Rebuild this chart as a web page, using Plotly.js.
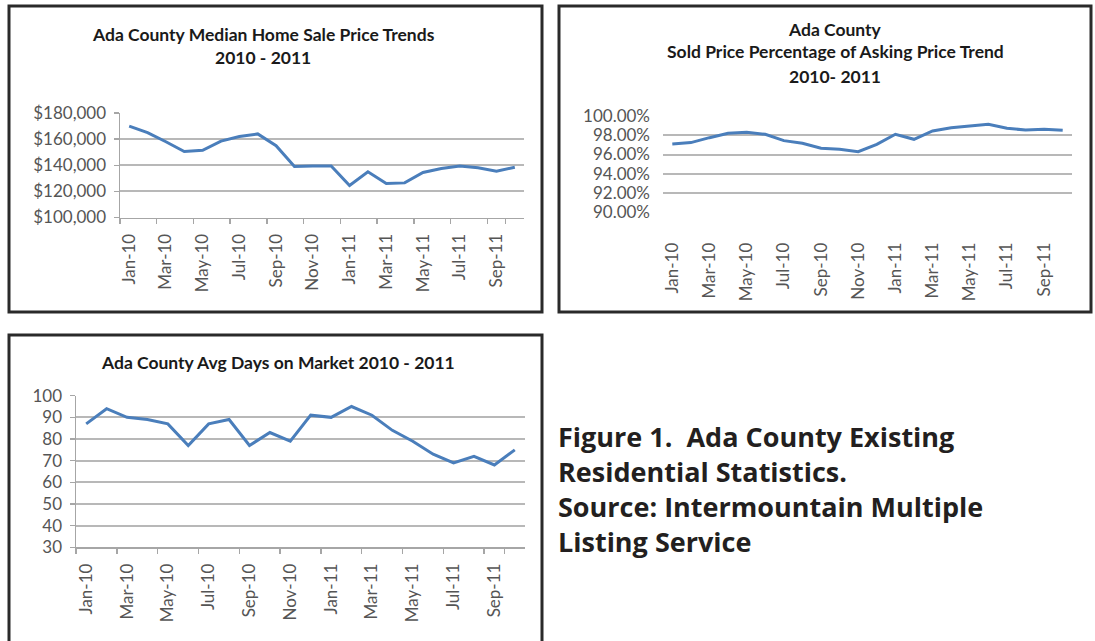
<!DOCTYPE html>
<html>
<head>
<meta charset="utf-8">
<script src="https://cdn.plot.ly/plotly-3.0.1.min.js"></script>
<style>html,body{margin:0;padding:0;background:#fff;}#chart{width:1095px;height:641px;}</style>
</head>
<body>
<div id="chart"></div>
<script>
// ---- Data ----
var months = ['Jan-10','Feb-10','Mar-10','Apr-10','May-10','Jun-10','Jul-10','Aug-10','Sep-10','Oct-10','Nov-10','Dec-10',
              'Jan-11','Feb-11','Mar-11','Apr-11','May-11','Jun-11','Jul-11','Aug-11','Sep-11','Oct-11'];
var tickLabels = ['Jan-10','Mar-10','May-10','Jul-10','Sep-10','Nov-10','Jan-11','Mar-11','May-11','Jul-11','Sep-11'];
var medianPrice = [170000,165000,158000,150500,151500,158500,162000,164000,155000,139000,139500,
                   139500,124500,135000,126000,126500,134500,137500,139500,138000,135500,138500];
var soldPct = [97.10,97.24,97.75,98.20,98.31,98.10,97.44,97.17,96.65,96.55,96.30,
               97.06,98.10,97.58,98.45,98.79,98.96,99.14,98.72,98.55,98.62,98.51];
var daysOnMarket = [87,94,90,89,87,77,87,89,77,83,79,91,90,95,91,84,79,73,69,72,68,75];

var title1 = ['Ada County Median Home Sale Price Trends','2010 - 2011'];
var title2 = ['Ada County','Sold Price Percentage of Asking Price Trend','2010- 2011'];
var title3 = ['Ada County Avg Days on Market 2010 - 2011'];
var caption = ['Figure 1.\u00a0\u00a0Ada County Existing','Residential Statistics.','Source: Intermountain Multiple','Listing Service'];

// ---- helpers (pixel -> paper) ----
var W = 1095, H = 641;
function px(x){ return x / W; }
function py(y){ return 1 - y / H; }

var lineStyle = {color:'#4a7ebb', width:3};
var tickFont = {family:'Lato, sans-serif', size:17, color:'#555555'};
var gridC = '#b8b8b8';
var axisC = '#a6a6a6';

var traces = [
  {x:months, y:medianPrice, type:'scatter', mode:'lines', line:lineStyle, xaxis:'x', yaxis:'y'},
  {x:months, y:soldPct, type:'scatter', mode:'lines', line:lineStyle, xaxis:'x2', yaxis:'y2'},
  {x:months, y:daysOnMarket, type:'scatter', mode:'lines', line:lineStyle, xaxis:'x3', yaxis:'y3'}
];

function xAxis(domain, anchor, showTicks, standoff){
  return {
    domain: domain, anchor: anchor, type:'category', range:[-0.5, months.length - 0.5],
    tickmode:'array', tickvals: tickLabels, ticktext: tickLabels,
    tickangle:-90, tickfont: tickFont, showgrid:false, zeroline:false,
    showline: showTicks, linecolor: axisC, linewidth:1.5,
    ticks: showTicks ? 'outside' : '', tickson:'boundaries', ticklen:5, tickcolor: axisC, tickwidth:1.5,
    ticklabelstandoff: standoff
  };
}

function yAxis(domain, anchor, range, dtick, fmt, suffix, showLine, standoff){
  return {
    domain: domain, anchor: anchor, range: range, dtick: dtick, tick0: range[0],
    tickformat: fmt, ticksuffix: suffix || '', tickfont: tickFont,
    showgrid:true, gridcolor: gridC, gridwidth:2, zeroline:false,
    showline: showLine, linecolor: axisC, linewidth:1.5,
    ticks: showLine ? 'outside' : '', ticklen:5, tickcolor: axisC, tickwidth:1.5,
    ticklabelstandoff: standoff
  };
}

var layout = {
  width: W, height: H, margin:{l:0,r:0,t:0,b:0}, showlegend:false,
  paper_bgcolor:'#ffffff', plot_bgcolor:'rgba(0,0,0,0)',
  xaxis:  xAxis([px(120), px(524)], 'y', true, 8),
  yaxis:  yAxis([py(217.5), py(113)], 'x', [100000,180000], 20000, '$,.0f', '', true, 4),
  xaxis2: xAxis([px(663), px(1072)], 'y2', false, 26),
  yaxis2: yAxis([py(212.3), py(116)], 'x2', [90,100], 2, '.2f', '%', false, 12),
  xaxis3: xAxis([px(76), px(525)], 'y3', true, 8),
  yaxis3: yAxis([py(547.3), py(395.7)], 'x3', [30,100], 10, 'd', '', true, 4),
  shapes: [
    {type:'rect', xref:'paper', yref:'paper', x0:px(9), x1:px(542), y0:py(312), y1:py(6), line:{color:'#2a2a2a', width:3}},
    {type:'rect', xref:'paper', yref:'paper', x0:px(559), x1:px(1091), y0:py(312), y1:py(6), line:{color:'#2a2a2a', width:3}},
    {type:'rect', xref:'paper', yref:'paper', x0:px(9), x1:px(542), y0:py(660), y1:py(335), line:{color:'#2a2a2a', width:3}}
  ],
  annotations: []
};

var titleFont = {family:'Lato, sans-serif', size:17.5, color:'#1a1a1a'};
function addTitle(lines, cx, ys){
  lines.forEach(function(t, i){
    layout.annotations.push({text:'<b>'+t+'</b>', xref:'paper', yref:'paper', x:px(cx), y:py(ys[i]),
      xanchor:'center', yanchor:'middle', showarrow:false, font:titleFont});
  });
}
addTitle(title1, 263, [34, 58]);
addTitle(title2, 835, [30, 52, 76]);
addTitle(title3, 278, [362]);

layout.annotations.push({
  text: caption.map(function(t){ return '<b>'+t+'</b>'; }).join('<br>'),
  xref:'paper', yref:'paper', x:px(556), y:py(489),
  xanchor:'left', yanchor:'middle', align:'left', showarrow:false,
  font:{family:'"Open Sans", sans-serif', size:27, color:'#231f20'}
});

Plotly.newPlot('chart', traces, layout, {staticPlot:true});
</script>
</body>
</html>
